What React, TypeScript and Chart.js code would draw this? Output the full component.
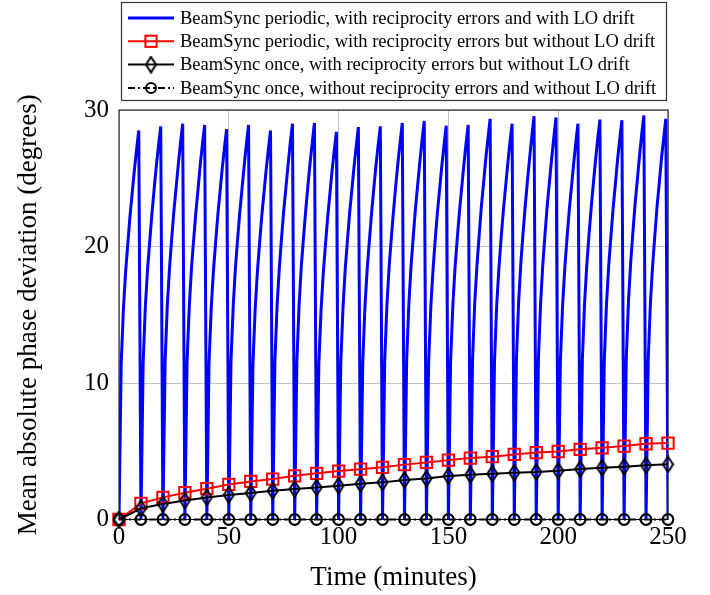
import React, { useEffect, useRef } from "react";
import { Chart, registerables } from "chart.js";

Chart.register(...registerables);

// ---------- data ----------
const timeMinutes = [0, 10, 20, 30, 40, 50, 60, 70, 80, 90, 100, 110, 120, 130, 140, 150, 160, 170, 180, 190, 200, 210, 220, 230, 240, 250];

const redValues = [0, 1.18, 1.62, 1.96, 2.26, 2.57, 2.79, 2.96, 3.2, 3.38, 3.55, 3.69, 3.82, 4.02, 4.18, 4.35, 4.5, 4.6, 4.77, 4.9, 4.98, 5.14, 5.25, 5.38, 5.55, 5.6];

const blackValues = [0, 0.82, 1.13, 1.4, 1.62, 1.8, 1.94, 2.1, 2.23, 2.34, 2.48, 2.62, 2.72, 2.9, 3.0, 3.18, 3.28, 3.35, 3.43, 3.48, 3.57, 3.7, 3.8, 3.87, 3.97, 4.04];

const circleValues = [0, 0, 0, 0, 0, 0, 0, 0, 0, 0, 0, 0, 0, 0, 0, 0, 0, 0, 0, 0, 0, 0, 0, 0, 0, 0];

// Blue series, sampled every minute; one row per 10-minute resynchronisation period
const blueTeeth = [
  [0, 11.4, 15.4, 18.1, 20.2, 22.2, 23.9, 25.6, 27.1, 28.5],
  [0, 11.5, 15.6, 18.3, 20.4, 22.4, 24.2, 25.9, 27.4, 28.8],
  [0, 11.6, 15.7, 18.4, 20.6, 22.6, 24.3, 26.0, 27.6, 29.0],
  [0, 11.6, 15.6, 18.4, 20.5, 22.5, 24.2, 26.0, 27.5, 28.9],
  [0, 11.5, 15.5, 18.2, 20.3, 22.3, 24.0, 25.7, 27.2, 28.6],
  [0, 11.6, 15.6, 18.4, 20.5, 22.5, 24.2, 25.9, 27.5, 28.9],
  [0, 11.4, 15.4, 18.1, 20.2, 22.2, 23.9, 25.6, 27.1, 28.5],
  [0, 11.6, 15.7, 18.4, 20.6, 22.6, 24.3, 26.0, 27.6, 29.0],
  [0, 11.6, 15.7, 18.5, 20.6, 22.6, 24.4, 26.1, 27.6, 29.05],
  [0, 11.4, 15.3, 18.0, 20.1, 22.1, 23.8, 25.5, 27.0, 28.4],
  [0, 11.5, 15.5, 18.3, 20.4, 22.4, 24.1, 25.8, 27.3, 28.75],
  [0, 11.5, 15.6, 18.3, 20.4, 22.4, 24.2, 25.9, 27.4, 28.8],
  [0, 11.6, 15.7, 18.5, 20.6, 22.6, 24.4, 26.1, 27.6, 29.05],
  [0, 11.7, 15.8, 18.6, 20.7, 22.8, 24.5, 26.2, 27.8, 29.2],
  [0, 11.5, 15.6, 18.3, 20.5, 22.5, 24.2, 25.9, 27.4, 28.85],
  [0, 11.6, 15.6, 18.4, 20.5, 22.5, 24.2, 25.9, 27.5, 28.9],
  [0, 11.7, 15.9, 18.6, 20.8, 22.9, 24.6, 26.4, 27.9, 29.35],
  [0, 11.6, 15.7, 18.4, 20.6, 22.6, 24.3, 26.0, 27.6, 29.0],
  [0, 11.8, 16.0, 18.8, 21.0, 23.0, 24.8, 26.5, 28.1, 29.55],
  [0, 11.8, 15.9, 18.7, 20.9, 23.0, 24.7, 26.4, 28.0, 29.45],
  [0, 11.6, 15.7, 18.4, 20.6, 22.6, 24.3, 26.0, 27.6, 29.0],
  [0, 11.7, 15.8, 18.6, 20.8, 22.8, 24.6, 26.3, 27.9, 29.3],
  [0, 11.7, 15.8, 18.6, 20.7, 22.8, 24.5, 26.3, 27.8, 29.25],
  [0, 11.8, 16.0, 18.8, 21.0, 23.1, 24.8, 26.6, 28.2, 29.6],
  [0, 11.7, 15.9, 18.6, 20.8, 22.9, 24.6, 26.4, 27.9, 29.35],
];
const blueFinalTime = 250;
const blueFinalValue = 0;

const xTicks = [0, 50, 100, 150, 200, 250];
const yTicks = [0, 10, 20, 30];

const legendLabels = [
  "BeamSync periodic, with reciprocity errors and with LO drift",
  "BeamSync periodic, with reciprocity errors but without LO drift",
  "BeamSync once, with reciprocity errors but without LO drift",
  "BeamSync once, without reciprocity errors and without LO drift",
];

const xTitle = "Time (minutes)";
const yTitle = "Mean absolute phase deviation (degrees)";

// ---------- styling ----------
const FONT = "'Liberation Serif', 'Times New Roman', serif";
const BLUE = "#0000ff";
const RED = "#ff0000";
const BLACK = "#000000";
const CIRCLE_DASH = [7, 3, 2, 3];

function makeDiamond(): HTMLCanvasElement {
  const c = document.createElement("canvas");
  c.width = 13;
  c.height = 18;
  const g = c.getContext("2d")!;
  g.strokeStyle = BLACK;
  g.lineWidth = 2;
  g.beginPath();
  g.moveTo(6.5, 1.2);
  g.lineTo(11.5, 9);
  g.lineTo(6.5, 16.8);
  g.lineTo(1.5, 9);
  g.closePath();
  g.stroke();
  return c;
}

function buildBlue() {
  const pts: { x: number; y: number }[] = [];
  blueTeeth.forEach((row, k) => {
    row.forEach((v, i) => pts.push({ x: k * 10 + i, y: v }));
  });
  pts.push({ x: blueFinalTime, y: blueFinalValue });
  return pts;
}

const pairs = (vals: number[]) => timeMinutes.map((t, i) => ({ x: t, y: vals[i] }));

export default function App() {
  const ref = useRef<HTMLCanvasElement | null>(null);

  useEffect(() => {
    if (!ref.current) return;
    const diamond = makeDiamond();

    const framePlugin = {
      id: "frame",
      beforeDatasetsDraw(chart: any) {
        const { ctx, chartArea: a } = chart;
        ctx.save();
        ctx.strokeStyle = "#000";
        ctx.lineWidth = 1;
        ctx.strokeRect(a.left, a.top, a.right - a.left, a.bottom - a.top);
        ctx.restore();
      },
    };

    const legendPlugin = {
      id: "customLegend",
      afterDraw(chart: any) {
        const ctx: CanvasRenderingContext2D = chart.ctx;
        ctx.save();
        ctx.fillStyle = "#fff";
        ctx.fillRect(121.5, 2.5, 545, 98);
        ctx.strokeStyle = "#333";
        ctx.lineWidth = 1.2;
        ctx.strokeRect(121.5, 2.5, 545, 98);
        const x0 = 128;
        const x1 = 174;
        const xm = (x0 + x1) / 2;
        legendLabels.forEach((label, i) => {
          const y = 18 + i * 23.3;
          ctx.setLineDash([]);
          ctx.beginPath();
          if (i === 0) {
            ctx.strokeStyle = BLUE;
            ctx.lineWidth = 3;
            ctx.moveTo(x0, y);
            ctx.lineTo(x1, y);
            ctx.stroke();
          } else if (i === 1) {
            ctx.strokeStyle = RED;
            ctx.lineWidth = 2;
            ctx.moveTo(x0, y);
            ctx.lineTo(x1, y);
            ctx.stroke();
            ctx.strokeRect(xm - 5.6, y - 5.6, 11.2, 11.2);
          } else if (i === 2) {
            ctx.strokeStyle = BLACK;
            ctx.lineWidth = 2;
            ctx.moveTo(x0, y);
            ctx.lineTo(x1, y);
            ctx.stroke();
            ctx.drawImage(diamond, xm - diamond.width / 2, y - diamond.height / 2);
          } else {
            ctx.strokeStyle = BLACK;
            ctx.lineWidth = 2;
            ctx.setLineDash(CIRCLE_DASH);
            ctx.moveTo(x0, y);
            ctx.lineTo(x1, y);
            ctx.stroke();
            ctx.setLineDash([]);
            ctx.beginPath();
            ctx.arc(xm, y, 5, 0, Math.PI * 2);
            ctx.stroke();
          }
          ctx.fillStyle = "#000";
          ctx.font = `18.5px ${FONT}`;
          ctx.textBaseline = "middle";
          ctx.textAlign = "left";
          ctx.fillText(label, 180, y + 1);
        });
        ctx.restore();
      },
    };

    const chart = new Chart(ref.current, {
      type: "line",
      data: {
        datasets: [
          {
            label: legendLabels[0],
            data: buildBlue(),
            borderColor: BLUE,
            borderWidth: 3,
            pointRadius: 0,
            tension: 0,
            order: 4,
          },
          {
            label: legendLabels[1],
            data: pairs(redValues),
            borderColor: RED,
            borderWidth: 2,
            pointStyle: "rect",
            pointRadius: 8,
            pointBorderWidth: 2,
            pointBorderColor: RED,
            pointBackgroundColor: "rgba(0,0,0,0)",
            tension: 0,
            order: 3,
            clip: false,
          },
          {
            label: legendLabels[2],
            data: pairs(blackValues),
            borderColor: BLACK,
            borderWidth: 2,
            pointStyle: diamond,
            pointRadius: 6,
            tension: 0,
            order: 2,
            clip: false,
          },
          {
            label: legendLabels[3],
            data: pairs(circleValues),
            borderColor: BLACK,
            borderWidth: 2,
            borderDash: CIRCLE_DASH,
            pointStyle: "circle",
            pointRadius: 5.3,
            pointBorderWidth: 2.2,
            pointBorderColor: BLACK,
            pointBackgroundColor: "rgba(0,0,0,0)",
            tension: 0,
            order: 1,
            clip: false,
          },
        ] as any,
      },
      options: {
        animation: false,
        responsive: false,
        maintainAspectRatio: false,
        layout: { padding: { left: 0, right: 42, top: 110, bottom: 0 } },
        plugins: {
          legend: { display: false },
          tooltip: { enabled: false },
        },
        scales: {
          x: {
            type: "linear",
            min: 0,
            max: 250,
            afterBuildTicks: (s: any) => {
              s.ticks = xTicks.map((v) => ({ value: v }));
            },
            afterFit: (s: any) => {
              s.height = 75.5;
            },
            grid: { color: "#c4c4c4", lineWidth: 1, drawTicks: false },
            border: { display: false },
            ticks: {
              color: "#000",
              font: { family: FONT, size: 25 },
              padding: 3,
              maxRotation: 0,
            },
            title: {
              display: true,
              text: xTitle,
              color: "#000",
              font: { family: FONT, size: 27 },
              padding: { top: 0, bottom: 1 },
            },
          },
          y: {
            type: "linear",
            min: 0,
            max: 30,
            afterBuildTicks: (s: any) => {
              s.ticks = yTicks.map((v) => ({ value: v }));
            },
            afterFit: (s: any) => {
              s.width = 119;
            },
            grid: { color: "#c4c4c4", lineWidth: 1, drawTicks: false },
            border: { display: false },
            ticks: {
              color: "#000",
              font: { family: FONT, size: 25 },
              padding: 10,
            },
            title: {
              display: true,
              text: yTitle,
              color: "#000",
              font: { family: FONT, size: 27 },
              padding: { top: 13, bottom: 0 },
            },
          },
        },
      } as any,
      plugins: [framePlugin, legendPlugin],
    });

    return () => chart.destroy();
  }, []);

  return (
    <div style={{ position: "absolute", left: 0, top: 0, width: 710, height: 595, background: "#fff" }}>
      <canvas ref={ref} width={710} height={595} style={{ width: 710, height: 595, display: "block" }} />
    </div>
  );
}
